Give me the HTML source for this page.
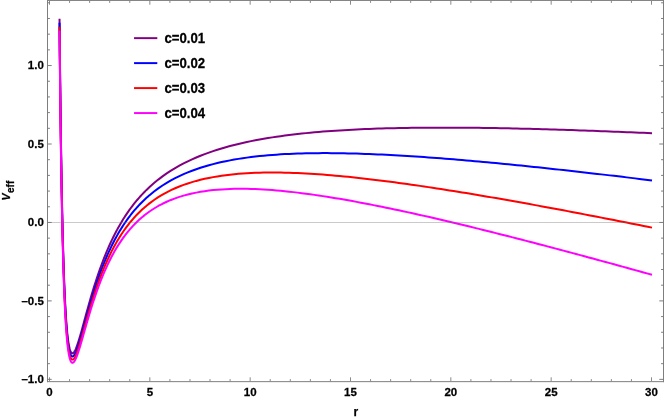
<!DOCTYPE html>
<html><head><meta charset="utf-8"><title>Veff</title>
<style>
html,body{margin:0;padding:0;background:#fff;}
body{width:664px;height:419px;overflow:hidden;}
svg{display:block;will-change:transform;}
text{font-family:"Liberation Sans",sans-serif;font-weight:bold;fill:#000;stroke:#000;stroke-width:0.25px;}
</style></head><body>
<svg width="664" height="419" viewBox="0 0 664 419">
<rect width="664" height="419" fill="#fff"/>
<g fill="none" stroke-width="2" stroke-linejoin="round" stroke-linecap="butt">
<path d="M59.53,18.80 L59.70,36.61 L59.87,53.44 L60.04,69.34 L60.21,84.39 L60.38,98.62 L60.55,112.10 L60.72,124.87 L60.89,136.98 L61.06,148.45 L61.23,159.33 L61.40,169.66 L61.57,179.46 L61.74,188.77 L61.91,197.60 L62.08,206.00 L62.25,213.97 L62.42,221.55 L62.59,228.76 L62.76,235.61 L62.93,242.12 L63.10,248.32 L63.27,254.21 L63.44,259.81 L63.61,265.14 L63.78,270.21 L63.95,275.03 L64.12,279.61 L64.29,283.97 L64.46,288.12 L64.64,292.06 L64.81,295.81 L64.98,299.37 L65.15,302.75 L65.32,305.97 L65.49,309.02 L65.66,311.92 L65.83,314.68 L66.00,317.29 L66.17,319.77 L66.34,322.12 L66.51,324.34 L66.68,326.45 L66.85,328.44 L67.02,330.33 L67.19,332.11 L67.36,333.79 L67.53,335.38 L67.70,336.87 L67.87,338.28 L68.04,339.61 L68.21,340.85 L68.38,342.02 L68.55,343.11 L68.72,344.13 L68.89,345.09 L69.06,345.97 L69.23,346.80 L69.40,347.56 L69.57,348.27 L69.91,349.52 L70.25,350.56 L70.59,351.41 L70.93,352.09 L71.27,352.60 L71.61,352.97 L71.95,353.19 L72.29,353.29 L72.63,353.27 L72.97,353.15 L73.31,352.92 L73.65,352.60 L73.99,352.19 L74.33,351.70 L74.67,351.15 L75.01,350.52 L75.35,349.83 L75.69,349.09 L76.03,348.29 L76.37,347.45 L76.71,346.56 L77.05,345.63 L77.39,344.67 L77.73,343.67 L78.07,342.64 L78.41,341.58 L78.75,340.50 L79.09,339.39 L79.43,338.27 L79.77,337.12 L80.11,335.96 L80.45,334.78 L80.79,333.60 L81.13,332.40 L81.47,331.19 L81.81,329.97 L82.15,328.74 L82.49,327.51 L82.83,326.27 L83.17,325.03 L83.51,323.79 L83.85,322.54 L84.19,321.29 L84.53,320.04 L84.87,318.80 L85.21,317.55 L85.55,316.30 L85.89,315.06 L86.23,313.82 L86.57,312.58 L86.91,311.35 L87.25,310.12 L87.59,308.90 L87.93,307.68 L88.27,306.46 L88.61,305.25 L88.95,304.05 L89.29,302.85 L89.63,301.66 L90.65,298.12 L91.67,294.65 L92.69,291.24 L93.71,287.90 L94.74,284.64 L95.76,281.44 L96.78,278.32 L97.80,275.27 L98.82,272.29 L99.84,269.39 L100.86,266.55 L101.88,263.78 L102.90,261.08 L103.92,258.45 L104.94,255.88 L105.96,253.38 L106.98,250.94 L108.00,248.56 L109.02,246.24 L110.04,243.97 L111.06,241.77 L112.08,239.61 L113.10,237.51 L114.12,235.46 L115.14,233.46 L116.16,231.51 L117.18,229.60 L118.20,227.74 L119.22,225.93 L120.24,224.15 L121.26,222.42 L122.28,220.73 L123.30,219.08 L124.32,217.47 L125.35,215.89 L126.37,214.35 L127.39,212.84 L128.41,211.37 L129.43,209.93 L130.45,208.52 L131.47,207.15 L132.49,205.80 L133.51,204.48 L134.53,203.19 L135.55,201.93 L136.57,200.70 L137.59,199.49 L138.61,198.30 L139.63,197.14 L140.65,196.01 L141.67,194.90 L142.69,193.81 L143.71,192.74 L144.73,191.70 L145.75,190.67 L146.77,189.67 L147.79,188.68 L148.81,187.72 L149.83,186.77 L154.05,183.04 L158.27,179.59 L162.49,176.40 L166.71,173.43 L170.93,170.67 L175.15,168.10 L179.37,165.70 L183.59,163.45 L187.81,161.35 L192.03,159.37 L196.25,157.52 L200.47,155.77 L204.69,154.13 L208.91,152.58 L213.13,151.12 L217.35,149.75 L221.57,148.45 L225.79,147.22 L230.01,146.06 L234.23,144.97 L238.45,143.93 L242.67,142.95 L246.89,142.02 L251.11,141.14 L255.33,140.30 L259.55,139.51 L263.77,138.77 L267.99,138.06 L272.21,137.38 L276.43,136.75 L280.65,136.14 L284.87,135.57 L289.09,135.03 L293.31,134.51 L297.53,134.03 L301.75,133.57 L305.97,133.13 L310.19,132.72 L314.41,132.33 L318.63,131.96 L322.85,131.61 L327.07,131.29 L331.29,130.98 L335.51,130.69 L339.73,130.41 L343.95,130.16 L348.17,129.91 L352.39,129.69 L356.61,129.48 L360.83,129.28 L365.05,129.10 L369.27,128.93 L373.49,128.77 L377.71,128.62 L381.93,128.49 L386.15,128.37 L390.37,128.25 L394.59,128.15 L398.81,128.06 L403.03,127.98 L407.25,127.91 L411.47,127.85 L415.69,127.79 L419.91,127.75 L424.13,127.71 L428.35,127.68 L432.57,127.66 L436.79,127.64 L441.01,127.64 L445.23,127.64 L449.45,127.65 L453.67,127.66 L457.89,127.68 L462.11,127.71 L466.33,127.74 L470.55,127.78 L474.77,127.82 L478.99,127.87 L483.21,127.92 L487.43,127.98 L491.65,128.05 L495.87,128.12 L500.09,128.19 L504.31,128.27 L508.53,128.36 L512.75,128.45 L516.97,128.54 L521.19,128.64 L525.41,128.74 L529.63,128.84 L533.85,128.95 L538.07,129.06 L542.29,129.18 L546.50,129.30 L550.72,129.42 L554.94,129.55 L559.16,129.68 L563.38,129.81 L567.60,129.95 L571.82,130.09 L576.04,130.23 L580.26,130.38 L584.48,130.52 L588.70,130.68 L592.92,130.83 L597.14,130.99 L601.36,131.15 L605.58,131.31 L609.80,131.47 L614.02,131.64 L618.24,131.81 L622.46,131.98 L626.68,132.15 L630.90,132.33 L635.12,132.51 L639.34,132.69 L643.56,132.87 L647.78,133.06 L652.00,133.24" stroke="#800080"/>
<path d="M59.53,22.73 L59.70,40.50 L59.87,57.29 L60.04,73.16 L60.21,88.17 L60.38,102.37 L60.55,115.82 L60.72,128.56 L60.89,140.63 L61.06,152.08 L61.23,162.94 L61.40,173.24 L61.57,183.01 L61.74,192.30 L61.91,201.11 L62.08,209.48 L62.25,217.44 L62.42,225.00 L62.59,232.19 L62.76,239.02 L62.93,245.52 L63.10,251.70 L63.27,257.57 L63.44,263.16 L63.61,268.47 L63.78,273.53 L63.95,278.34 L64.12,282.91 L64.29,287.26 L64.46,291.39 L64.64,295.32 L64.81,299.06 L64.98,302.61 L65.15,305.99 L65.32,309.20 L65.49,312.25 L65.66,315.14 L65.83,317.88 L66.00,320.49 L66.17,322.96 L66.34,325.30 L66.51,327.52 L66.68,329.63 L66.85,331.61 L67.02,333.50 L67.19,335.27 L67.36,336.95 L67.53,338.54 L67.70,340.03 L67.87,341.44 L68.04,342.76 L68.21,344.00 L68.38,345.16 L68.55,346.26 L68.72,347.28 L68.89,348.23 L69.06,349.11 L69.23,349.94 L69.40,350.70 L69.57,351.41 L69.91,352.66 L70.25,353.70 L70.59,354.55 L70.93,355.23 L71.27,355.75 L71.61,356.12 L71.95,356.35 L72.29,356.46 L72.63,356.44 L72.97,356.32 L73.31,356.10 L73.65,355.79 L73.99,355.39 L74.33,354.92 L74.67,354.37 L75.01,353.75 L75.35,353.07 L75.69,352.34 L76.03,351.56 L76.37,350.72 L76.71,349.85 L77.05,348.93 L77.39,347.98 L77.73,346.99 L78.07,345.98 L78.41,344.93 L78.75,343.86 L79.09,342.77 L79.43,341.66 L79.77,340.53 L80.11,339.38 L80.45,338.22 L80.79,337.05 L81.13,335.87 L81.47,334.67 L81.81,333.47 L82.15,332.26 L82.49,331.04 L82.83,329.82 L83.17,328.60 L83.51,327.37 L83.85,326.14 L84.19,324.91 L84.53,323.68 L84.87,322.45 L85.21,321.23 L85.55,320.00 L85.89,318.77 L86.23,317.55 L86.57,316.33 L86.91,315.12 L87.25,313.91 L87.59,312.70 L87.93,311.50 L88.27,310.31 L88.61,309.12 L88.95,307.93 L89.29,306.75 L89.63,305.58 L90.65,302.11 L91.67,298.69 L92.69,295.35 L93.71,292.08 L94.74,288.87 L95.76,285.74 L96.78,282.69 L97.80,279.70 L98.82,276.79 L99.84,273.95 L100.86,271.18 L101.88,268.48 L102.90,265.85 L103.92,263.29 L104.94,260.79 L105.96,258.36 L106.98,255.99 L108.00,253.67 L109.02,251.42 L110.04,249.23 L111.06,247.09 L112.08,245.01 L113.10,242.98 L114.12,241.00 L115.14,239.08 L116.16,237.20 L117.18,235.36 L118.20,233.58 L119.22,231.83 L120.24,230.13 L121.26,228.48 L122.28,226.86 L123.30,225.28 L124.32,223.74 L125.35,222.24 L126.37,220.77 L127.39,219.34 L128.41,217.94 L129.43,216.58 L130.45,215.25 L131.47,213.94 L132.49,212.67 L133.51,211.43 L134.53,210.22 L135.55,209.03 L136.57,207.87 L137.59,206.74 L138.61,205.63 L139.63,204.55 L140.65,203.49 L141.67,202.45 L142.69,201.44 L143.71,200.45 L144.73,199.48 L145.75,198.53 L146.77,197.60 L147.79,196.69 L148.81,195.80 L149.83,194.93 L154.05,191.52 L158.27,188.39 L162.49,185.52 L166.71,182.87 L170.93,180.43 L175.15,178.18 L179.37,176.10 L183.59,174.18 L187.81,172.40 L192.03,170.75 L196.25,169.22 L200.47,167.80 L204.69,166.48 L208.91,165.25 L213.13,164.12 L217.35,163.07 L221.57,162.09 L225.79,161.19 L230.01,160.36 L234.23,159.59 L238.45,158.88 L242.67,158.22 L246.89,157.62 L251.11,157.07 L255.33,156.56 L259.55,156.10 L263.77,155.68 L267.99,155.30 L272.21,154.95 L276.43,154.64 L280.65,154.36 L284.87,154.12 L289.09,153.91 L293.31,153.72 L297.53,153.56 L301.75,153.43 L305.97,153.32 L310.19,153.24 L314.41,153.18 L318.63,153.14 L322.85,153.12 L327.07,153.12 L331.29,153.14 L335.51,153.17 L339.73,153.23 L343.95,153.30 L348.17,153.39 L352.39,153.49 L356.61,153.61 L360.83,153.74 L365.05,153.88 L369.27,154.04 L373.49,154.21 L377.71,154.40 L381.93,154.59 L386.15,154.80 L390.37,155.02 L394.59,155.24 L398.81,155.48 L403.03,155.73 L407.25,155.99 L411.47,156.25 L415.69,156.53 L419.91,156.81 L424.13,157.10 L428.35,157.40 L432.57,157.71 L436.79,158.03 L441.01,158.35 L445.23,158.68 L449.45,159.02 L453.67,159.36 L457.89,159.71 L462.11,160.06 L466.33,160.43 L470.55,160.79 L474.77,161.17 L478.99,161.55 L483.21,161.93 L487.43,162.32 L491.65,162.71 L495.87,163.11 L500.09,163.52 L504.31,163.93 L508.53,164.34 L512.75,164.76 L516.97,165.18 L521.19,165.61 L525.41,166.04 L529.63,166.47 L533.85,166.91 L538.07,167.35 L542.29,167.80 L546.50,168.25 L550.72,168.70 L554.94,169.16 L559.16,169.62 L563.38,170.08 L567.60,170.55 L571.82,171.01 L576.04,171.49 L580.26,171.96 L584.48,172.44 L588.70,172.92 L592.92,173.40 L597.14,173.89 L601.36,174.38 L605.58,174.87 L609.80,175.37 L614.02,175.86 L618.24,176.36 L622.46,176.86 L626.68,177.37 L630.90,177.87 L635.12,178.38 L639.34,178.89 L643.56,179.40 L647.78,179.92 L652.00,180.43" stroke="#0000ff"/>
<path d="M59.53,26.65 L59.70,44.38 L59.87,61.14 L60.04,76.97 L60.21,91.94 L60.38,106.12 L60.55,119.53 L60.72,132.24 L60.89,144.29 L61.06,155.71 L61.23,166.54 L61.40,176.82 L61.57,186.57 L61.74,195.83 L61.91,204.62 L62.08,212.97 L62.25,220.91 L62.42,228.45 L62.59,235.62 L62.76,242.44 L62.93,248.92 L63.10,255.08 L63.27,260.94 L63.44,266.51 L63.61,271.81 L63.78,276.85 L63.95,281.65 L64.12,286.21 L64.29,290.54 L64.46,294.67 L64.64,298.59 L64.81,302.32 L64.98,305.86 L65.15,309.23 L65.32,312.43 L65.49,315.47 L65.66,318.35 L65.83,321.09 L66.00,323.69 L66.17,326.16 L66.34,328.49 L66.51,330.71 L66.68,332.80 L66.85,334.79 L67.02,336.67 L67.19,338.44 L67.36,340.11 L67.53,341.69 L67.70,343.18 L67.87,344.59 L68.04,345.91 L68.21,347.15 L68.38,348.31 L68.55,349.40 L68.72,350.42 L68.89,351.37 L69.06,352.26 L69.23,353.08 L69.40,353.84 L69.57,354.55 L69.91,355.80 L70.25,356.84 L70.59,357.70 L70.93,358.38 L71.27,358.90 L71.61,359.28 L71.95,359.51 L72.29,359.62 L72.63,359.62 L72.97,359.50 L73.31,359.29 L73.65,358.98 L73.99,358.59 L74.33,358.13 L74.67,357.59 L75.01,356.98 L75.35,356.32 L75.69,355.59 L76.03,354.82 L76.37,354.00 L76.71,353.13 L77.05,352.23 L77.39,351.29 L77.73,350.32 L78.07,349.31 L78.41,348.28 L78.75,347.23 L79.09,346.15 L79.43,345.05 L79.77,343.94 L80.11,342.81 L80.45,341.66 L80.79,340.51 L81.13,339.34 L81.47,338.16 L81.81,336.97 L82.15,335.78 L82.49,334.58 L82.83,333.38 L83.17,332.17 L83.51,330.96 L83.85,329.75 L84.19,328.54 L84.53,327.32 L84.87,326.11 L85.21,324.90 L85.55,323.69 L85.89,322.49 L86.23,321.28 L86.57,320.08 L86.91,318.89 L87.25,317.70 L87.59,316.51 L87.93,315.33 L88.27,314.15 L88.61,312.98 L88.95,311.82 L89.29,310.66 L89.63,309.51 L90.65,306.09 L91.67,302.74 L92.69,299.46 L93.71,296.25 L94.74,293.11 L95.76,290.04 L96.78,287.05 L97.80,284.13 L98.82,281.29 L99.84,278.51 L100.86,275.81 L101.88,273.18 L102.90,270.62 L103.92,268.12 L104.94,265.70 L105.96,263.33 L106.98,261.03 L108.00,258.79 L109.02,256.61 L110.04,254.49 L111.06,252.42 L112.08,250.41 L113.10,248.45 L114.12,246.55 L115.14,244.69 L116.16,242.88 L117.18,241.12 L118.20,239.41 L119.22,237.74 L120.24,236.11 L121.26,234.53 L122.28,232.99 L123.30,231.48 L124.32,230.02 L125.35,228.59 L126.37,227.20 L127.39,225.84 L128.41,224.52 L129.43,223.23 L130.45,221.97 L131.47,220.74 L132.49,219.54 L133.51,218.38 L134.53,217.24 L135.55,216.13 L136.57,215.04 L137.59,213.99 L138.61,212.95 L139.63,211.95 L140.65,210.96 L141.67,210.00 L142.69,209.07 L143.71,208.15 L144.73,207.26 L145.75,206.39 L146.77,205.53 L147.79,204.70 L148.81,203.89 L149.83,203.10 L154.05,200.00 L158.27,197.19 L162.49,194.64 L166.71,192.31 L170.93,190.19 L175.15,188.26 L179.37,186.51 L183.59,184.90 L187.81,183.45 L192.03,182.12 L196.25,180.91 L200.47,179.82 L204.69,178.82 L208.91,177.92 L213.13,177.11 L217.35,176.39 L221.57,175.74 L225.79,175.17 L230.01,174.66 L234.23,174.21 L238.45,173.83 L242.67,173.50 L246.89,173.22 L251.11,173.00 L255.33,172.82 L259.55,172.68 L263.77,172.59 L267.99,172.53 L272.21,172.52 L276.43,172.53 L280.65,172.59 L284.87,172.67 L289.09,172.78 L293.31,172.92 L297.53,173.09 L301.75,173.29 L305.97,173.51 L310.19,173.75 L314.41,174.02 L318.63,174.31 L322.85,174.62 L327.07,174.95 L331.29,175.29 L335.51,175.66 L339.73,176.04 L343.95,176.44 L348.17,176.86 L352.39,177.29 L356.61,177.74 L360.83,178.20 L365.05,178.67 L369.27,179.16 L373.49,179.66 L377.71,180.17 L381.93,180.70 L386.15,181.23 L390.37,181.78 L394.59,182.33 L398.81,182.90 L403.03,183.48 L407.25,184.06 L411.47,184.66 L415.69,185.26 L419.91,185.88 L424.13,186.50 L428.35,187.13 L432.57,187.76 L436.79,188.41 L441.01,189.06 L445.23,189.72 L449.45,190.39 L453.67,191.06 L457.89,191.74 L462.11,192.42 L466.33,193.11 L470.55,193.81 L474.77,194.51 L478.99,195.22 L483.21,195.93 L487.43,196.65 L491.65,197.38 L495.87,198.11 L500.09,198.84 L504.31,199.58 L508.53,200.32 L512.75,201.07 L516.97,201.82 L521.19,202.58 L525.41,203.34 L529.63,204.10 L533.85,204.87 L538.07,205.64 L542.29,206.42 L546.50,207.20 L550.72,207.98 L554.94,208.76 L559.16,209.55 L563.38,210.35 L567.60,211.14 L571.82,211.94 L576.04,212.74 L580.26,213.55 L584.48,214.36 L588.70,215.17 L592.92,215.98 L597.14,216.80 L601.36,217.61 L605.58,218.44 L609.80,219.26 L614.02,220.09 L618.24,220.91 L622.46,221.75 L626.68,222.58 L630.90,223.41 L635.12,224.25 L639.34,225.09 L643.56,225.93 L647.78,226.78 L652.00,227.63" stroke="#ff0000"/>
<path d="M59.53,30.58 L59.70,48.27 L59.87,64.98 L60.04,80.78 L60.21,95.72 L60.38,109.86 L60.55,123.25 L60.72,135.93 L60.89,147.95 L61.06,159.34 L61.23,170.14 L61.40,180.39 L61.57,190.12 L61.74,199.36 L61.91,208.13 L62.08,216.46 L62.25,224.38 L62.42,231.90 L62.59,239.05 L62.76,245.85 L62.93,252.31 L63.10,258.46 L63.27,264.30 L63.44,269.86 L63.61,275.15 L63.78,280.18 L63.95,284.96 L64.12,289.51 L64.29,293.83 L64.46,297.94 L64.64,301.86 L64.81,305.57 L64.98,309.11 L65.15,312.47 L65.32,315.66 L65.49,318.69 L65.66,321.57 L65.83,324.30 L66.00,326.89 L66.17,329.35 L66.34,331.68 L66.51,333.89 L66.68,335.98 L66.85,337.96 L67.02,339.83 L67.19,341.60 L67.36,343.28 L67.53,344.85 L67.70,346.34 L67.87,347.74 L68.04,349.06 L68.21,350.30 L68.38,351.46 L68.55,352.54 L68.72,353.56 L68.89,354.51 L69.06,355.40 L69.23,356.22 L69.40,356.98 L69.57,357.69 L69.91,358.94 L70.25,359.98 L70.59,360.84 L70.93,361.53 L71.27,362.05 L71.61,362.43 L71.95,362.67 L72.29,362.79 L72.63,362.79 L72.97,362.68 L73.31,362.48 L73.65,362.18 L73.99,361.80 L74.33,361.34 L74.67,360.81 L75.01,360.21 L75.35,359.56 L75.69,358.84 L76.03,358.08 L76.37,357.27 L76.71,356.42 L77.05,355.53 L77.39,354.60 L77.73,353.64 L78.07,352.65 L78.41,351.64 L78.75,350.59 L79.09,349.53 L79.43,348.45 L79.77,347.35 L80.11,346.23 L80.45,345.10 L80.79,343.96 L81.13,342.81 L81.47,341.65 L81.81,340.48 L82.15,339.30 L82.49,338.12 L82.83,336.93 L83.17,335.74 L83.51,334.55 L83.85,333.35 L84.19,332.16 L84.53,330.96 L84.87,329.77 L85.21,328.58 L85.55,327.39 L85.89,326.20 L86.23,325.02 L86.57,323.84 L86.91,322.66 L87.25,321.49 L87.59,320.32 L87.93,319.16 L88.27,318.00 L88.61,316.85 L88.95,315.70 L89.29,314.56 L89.63,313.43 L90.65,310.08 L91.67,306.79 L92.69,303.57 L93.71,300.42 L94.74,297.34 L95.76,294.34 L96.78,291.42 L97.80,288.56 L98.82,285.78 L99.84,283.08 L100.86,280.44 L101.88,277.88 L102.90,275.39 L103.92,272.96 L104.94,270.60 L105.96,268.31 L106.98,266.08 L108.00,263.91 L109.02,261.80 L110.04,259.74 L111.06,257.75 L112.08,255.81 L113.10,253.92 L114.12,252.09 L115.14,250.31 L116.16,248.57 L117.18,246.88 L118.20,245.24 L119.22,243.65 L120.24,242.09 L121.26,240.58 L122.28,239.11 L123.30,237.68 L124.32,236.29 L125.35,234.94 L126.37,233.62 L127.39,232.34 L128.41,231.09 L129.43,229.87 L130.45,228.69 L131.47,227.54 L132.49,226.42 L133.51,225.33 L134.53,224.26 L135.55,223.23 L136.57,222.22 L137.59,221.24 L138.61,220.28 L139.63,219.35 L140.65,218.44 L141.67,217.56 L142.69,216.70 L143.71,215.86 L144.73,215.04 L145.75,214.24 L146.77,213.47 L147.79,212.71 L148.81,211.98 L149.83,211.26 L154.05,208.49 L158.27,205.99 L162.49,203.76 L166.71,201.75 L170.93,199.95 L175.15,198.35 L179.37,196.91 L183.59,195.63 L187.81,194.50 L192.03,193.49 L196.25,192.61 L200.47,191.84 L204.69,191.17 L208.91,190.59 L213.13,190.11 L217.35,189.71 L221.57,189.39 L225.79,189.14 L230.01,188.96 L234.23,188.84 L238.45,188.78 L242.67,188.78 L246.89,188.83 L251.11,188.93 L255.33,189.08 L259.55,189.27 L263.77,189.50 L267.99,189.77 L272.21,190.08 L276.43,190.43 L280.65,190.81 L284.87,191.22 L289.09,191.66 L293.31,192.13 L297.53,192.63 L301.75,193.15 L305.97,193.70 L310.19,194.27 L314.41,194.87 L318.63,195.48 L322.85,196.12 L327.07,196.78 L331.29,197.45 L335.51,198.15 L339.73,198.86 L343.95,199.59 L348.17,200.33 L352.39,201.09 L356.61,201.87 L360.83,202.66 L365.05,203.46 L369.27,204.28 L373.49,205.11 L377.71,205.95 L381.93,206.80 L386.15,207.66 L390.37,208.54 L394.59,209.43 L398.81,210.32 L403.03,211.23 L407.25,212.14 L411.47,213.07 L415.69,214.00 L419.91,214.94 L424.13,215.89 L428.35,216.85 L432.57,217.82 L436.79,218.79 L441.01,219.77 L445.23,220.76 L449.45,221.76 L453.67,222.76 L457.89,223.77 L462.11,224.78 L466.33,225.80 L470.55,226.83 L474.77,227.86 L478.99,228.90 L483.21,229.94 L487.43,230.99 L491.65,232.04 L495.87,233.10 L500.09,234.16 L504.31,235.23 L508.53,236.30 L512.75,237.38 L516.97,238.46 L521.19,239.55 L525.41,240.64 L529.63,241.73 L533.85,242.83 L538.07,243.93 L542.29,245.04 L546.50,246.14 L550.72,247.26 L554.94,248.37 L559.16,249.49 L563.38,250.61 L567.60,251.74 L571.82,252.87 L576.04,254.00 L580.26,255.13 L584.48,256.27 L588.70,257.41 L592.92,258.55 L597.14,259.70 L601.36,260.85 L605.58,262.00 L609.80,263.15 L614.02,264.31 L618.24,265.47 L622.46,266.63 L626.68,267.79 L630.90,268.96 L635.12,270.12 L639.34,271.29 L643.56,272.47 L647.78,273.64 L652.00,274.82" stroke="#ff00ff"/>
</g>
<path d="M47.5,222.5 H663.5" stroke="#666" stroke-opacity="0.35" stroke-width="1" fill="none"/>
<path d="M47.5,0 V382.15 M663.5,0 V382.15 M47,0.45 H664 M47,381.65 H664" fill="none" stroke="#7e7e7e" stroke-width="1"/>
<path d="M49.50,381.5 v-4.2 M49.50,0.5 v4.2 M69.57,381.5 v-2.4 M69.57,0.5 v2.4 M89.63,381.5 v-2.4 M89.63,0.5 v2.4 M109.70,381.5 v-2.4 M109.70,0.5 v2.4 M129.77,381.5 v-2.4 M129.77,0.5 v2.4 M149.83,381.5 v-4.2 M149.83,0.5 v4.2 M169.90,381.5 v-2.4 M169.90,0.5 v2.4 M189.97,381.5 v-2.4 M189.97,0.5 v2.4 M210.03,381.5 v-2.4 M210.03,0.5 v2.4 M230.10,381.5 v-2.4 M230.10,0.5 v2.4 M250.17,381.5 v-4.2 M250.17,0.5 v4.2 M270.23,381.5 v-2.4 M270.23,0.5 v2.4 M290.30,381.5 v-2.4 M290.30,0.5 v2.4 M310.37,381.5 v-2.4 M310.37,0.5 v2.4 M330.43,381.5 v-2.4 M330.43,0.5 v2.4 M350.50,381.5 v-4.2 M350.50,0.5 v4.2 M370.57,381.5 v-2.4 M370.57,0.5 v2.4 M390.63,381.5 v-2.4 M390.63,0.5 v2.4 M410.70,381.5 v-2.4 M410.70,0.5 v2.4 M430.77,381.5 v-2.4 M430.77,0.5 v2.4 M450.83,381.5 v-4.2 M450.83,0.5 v4.2 M470.90,381.5 v-2.4 M470.90,0.5 v2.4 M490.97,381.5 v-2.4 M490.97,0.5 v2.4 M511.03,381.5 v-2.4 M511.03,0.5 v2.4 M531.10,381.5 v-2.4 M531.10,0.5 v2.4 M551.17,381.5 v-4.2 M551.17,0.5 v4.2 M571.23,381.5 v-2.4 M571.23,0.5 v2.4 M591.30,381.5 v-2.4 M591.30,0.5 v2.4 M611.37,381.5 v-2.4 M611.37,0.5 v2.4 M631.43,381.5 v-2.4 M631.43,0.5 v2.4 M651.50,381.5 v-4.2 M651.50,0.5 v4.2" stroke="#8a8a8a" stroke-width="1" fill="none"/>
<path d="M47.5,379.35 h4.2 M663.5,379.35 h-4.2 M47.5,363.66 h2.4 M663.5,363.66 h-2.4 M47.5,347.97 h2.4 M663.5,347.97 h-2.4 M47.5,332.28 h2.4 M663.5,332.28 h-2.4 M47.5,316.59 h2.4 M663.5,316.59 h-2.4 M47.5,300.90 h4.2 M663.5,300.90 h-4.2 M47.5,285.21 h2.4 M663.5,285.21 h-2.4 M47.5,269.52 h2.4 M663.5,269.52 h-2.4 M47.5,253.83 h2.4 M663.5,253.83 h-2.4 M47.5,238.14 h2.4 M663.5,238.14 h-2.4 M47.5,222.45 h4.2 M663.5,222.45 h-4.2 M47.5,206.76 h2.4 M663.5,206.76 h-2.4 M47.5,191.07 h2.4 M663.5,191.07 h-2.4 M47.5,175.38 h2.4 M663.5,175.38 h-2.4 M47.5,159.69 h2.4 M663.5,159.69 h-2.4 M47.5,144.00 h4.2 M663.5,144.00 h-4.2 M47.5,128.31 h2.4 M663.5,128.31 h-2.4 M47.5,112.62 h2.4 M663.5,112.62 h-2.4 M47.5,96.93 h2.4 M663.5,96.93 h-2.4 M47.5,81.24 h2.4 M663.5,81.24 h-2.4 M47.5,65.55 h4.2 M663.5,65.55 h-4.2 M47.5,49.86 h2.4 M663.5,49.86 h-2.4 M47.5,34.17 h2.4 M663.5,34.17 h-2.4 M47.5,18.48 h2.4 M663.5,18.48 h-2.4 M47.5,2.79 h2.4 M663.5,2.79 h-2.4" stroke="#7c7c7c" stroke-width="1" fill="none"/>
<g>
<g font-size="11.5">
<text transform="translate(49.50,395.8) scale(1,1.025)" text-anchor="middle">0</text><text transform="translate(149.83,395.8) scale(1,1.025)" text-anchor="middle">5</text><text transform="translate(250.17,395.8) scale(1,1.025)" text-anchor="middle">10</text><text transform="translate(350.50,395.8) scale(1,1.025)" text-anchor="middle">15</text><text transform="translate(450.83,395.8) scale(1,1.025)" text-anchor="middle">20</text><text transform="translate(551.17,395.8) scale(1,1.025)" text-anchor="middle">25</text><text transform="translate(651.50,395.8) scale(1,1.025)" text-anchor="middle">30</text>
<text transform="translate(43.8,383.25) scale(1,1.025)" text-anchor="end">–1.0</text><text transform="translate(43.8,304.80) scale(1,1.025)" text-anchor="end">–0.5</text><text transform="translate(43.8,226.35) scale(1,1.025)" text-anchor="end">0.0</text><text transform="translate(43.8,147.90) scale(1,1.025)" text-anchor="end">0.5</text><text transform="translate(43.8,69.45) scale(1,1.025)" text-anchor="end">1.0</text>
</g>
<text transform="translate(164.4,42.75) scale(1,1.1)" font-size="13.2">c=0.01</text><text transform="translate(164.4,67.72) scale(1,1.1)" font-size="13.2">c=0.02</text><text transform="translate(164.4,92.69) scale(1,1.1)" font-size="13.2">c=0.03</text><text transform="translate(164.4,117.66) scale(1,1.1)" font-size="13.2">c=0.04</text>
<text x="355.8" y="415.8" text-anchor="middle" font-size="12">r</text>
</g>
<path d="M134.05,38.15 H157.3" stroke="#800080" stroke-width="1.95" fill="none"/><path d="M134.05,63.12 H157.3" stroke="#0000ff" stroke-width="1.95" fill="none"/><path d="M134.05,88.09 H157.3" stroke="#ff0000" stroke-width="1.95" fill="none"/><path d="M134.05,113.06 H157.3" stroke="#ff00ff" stroke-width="1.95" fill="none"/>
<g transform="translate(9.7,200.4) rotate(-90)"><text font-size="10.5"><tspan font-style="italic">V</tspan><tspan dx="0.4" dy="3.9" font-size="10">eff</tspan></text></g>
</svg>
</body></html>
